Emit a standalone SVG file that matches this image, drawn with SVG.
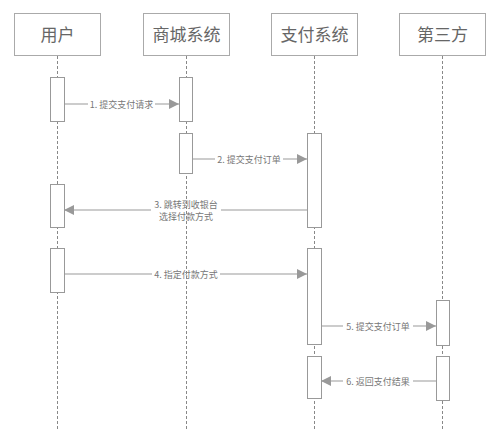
<svg xmlns="http://www.w3.org/2000/svg" width="500" height="447" viewBox="0 0 500 447">
<defs>
<marker id="ah" viewBox="0 0 10 10" refX="10" refY="5" markerWidth="10" markerHeight="10" markerUnits="userSpaceOnUse" orient="auto">
<path d="M0,0 L10,5 L0,10 z" fill="#999"/>
</marker>
<style>
.hdr{fill:#fff;stroke:#aaa;stroke-width:1}
.ht{font-family:"Noto Sans CJK SC","Noto Sans",sans-serif;font-size:17px;fill:#666;text-anchor:middle}
.life{stroke:#888;stroke-width:1;stroke-dasharray:3,2}
.act{fill:#fff;stroke:#999;stroke-width:1}
.msg{stroke:#999;stroke-width:1;fill:none;marker-end:url(#ah)}
.lbg{fill:#fff}
.lt{font-family:"Noto Sans CJK SC","Noto Sans",sans-serif;font-size:9px;fill:#777;text-anchor:middle}
</style>
</defs>
<rect width="500" height="447" fill="#fff"/>
<g id="connectors">
<line class="msg" x1="64" y1="104" x2="179" y2="104"/>
<rect class="lbg" x="88" y="98" width="67" height="12"/>
<text class="lt" x="121.5" y="107.5">1. 提交支付请求</text>
<line class="msg" x1="192" y1="159" x2="307" y2="159"/>
<rect class="lbg" x="215" y="153" width="68" height="12"/>
<text class="lt" x="249" y="162.5">2. 提交支付订单</text>
<line class="msg" x1="307" y1="210" x2="64" y2="210"/>
<rect class="lbg" x="151" y="199" width="70" height="23"/>
<text class="lt" x="186" y="208">3. 跳转到收银台</text>
<text class="lt" x="186" y="219.5">选择付款方式</text>
<line class="msg" x1="64" y1="274" x2="307" y2="274"/>
<rect class="lbg" x="152" y="268" width="68" height="12"/>
<text class="lt" x="186" y="277.5">4. 指定付款方式</text>
<line class="msg" x1="321" y1="326" x2="436" y2="326"/>
<rect class="lbg" x="343" y="320" width="70" height="12"/>
<text class="lt" x="378" y="329.5">5. 提交支付订单</text>
<line class="msg" x1="436" y1="381" x2="321" y2="381"/>
<rect class="lbg" x="343" y="375" width="70" height="12"/>
<text class="lt" x="378" y="384.5">6. 返回支付结果</text>
</g>
<g id="user">
<rect class="hdr" x="14.5" y="13.5" width="86" height="42"/>
<text class="ht" x="57.5" y="41">用户</text>
<line class="life" x1="57.5" y1="56" x2="57.5" y2="430"/>
<rect class="act" x="50.5" y="77.5" width="14" height="44"/>
<rect class="act" x="50.5" y="184.5" width="14" height="43"/>
<rect class="act" x="50.5" y="248.5" width="14" height="44"/>
</g>
<g id="mall">
<rect class="hdr" x="143.5" y="13.5" width="86" height="42"/>
<text class="ht" x="186.5" y="41">商城系统</text>
<line class="life" x1="186.5" y1="56" x2="186.5" y2="430"/>
<rect class="act" x="179.5" y="77.5" width="13" height="44"/>
<rect class="act" x="179.5" y="133.5" width="13" height="40"/>
</g>
<g id="pay">
<rect class="hdr" x="271.5" y="13.5" width="86" height="42"/>
<text class="ht" x="314.5" y="41">支付系统</text>
<line class="life" x1="314.5" y1="56" x2="314.5" y2="430"/>
<rect class="act" x="307.5" y="133.5" width="14" height="94"/>
<rect class="act" x="307.5" y="248.5" width="14" height="96"/>
<rect class="act" x="307.5" y="356.5" width="14" height="42"/>
</g>
<g id="third">
<rect class="hdr" x="399.5" y="13.5" width="86" height="42"/>
<text class="ht" x="442.5" y="41">第三方</text>
<line class="life" x1="442.5" y1="56" x2="442.5" y2="430"/>
<rect class="act" x="436.5" y="300.5" width="13" height="45"/>
<rect class="act" x="436.5" y="356.5" width="13" height="44"/>
</g>
</svg>
